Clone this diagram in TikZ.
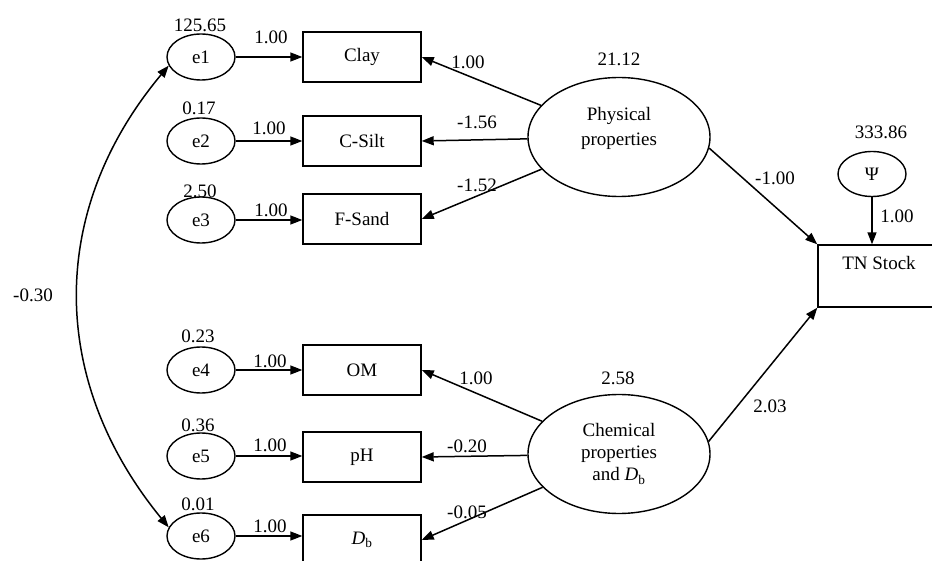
\documentclass[tikz,border=0pt]{standalone}
\usepackage{fontspec}
\setmainfont{Liberation Serif}
\usetikzlibrary{shapes.geometric,arrows.meta}

\begin{document}
\begin{tikzpicture}[x=1pt,y=-1pt,font=\fontsize{19}{22}\selectfont,
  err/.style={draw,ellipse,line width=1.4pt,minimum width=68pt,minimum height=46pt,inner sep=0pt},
  obs/.style={draw,rectangle,line width=1.4pt,minimum width=118pt,minimum height=50pt,inner sep=0pt},
  latent/.style={draw,ellipse,line width=1.4pt,minimum width=182pt,minimum height=119pt,inner sep=0pt,align=center},
  arr/.style={line width=1.5pt,-{Triangle[length=12pt,width=9pt]}},
  dbl/.style={line width=1.5pt,{Triangle[length=12pt,width=9pt]}-{Triangle[length=12pt,width=9pt]}}]
\clip (0,0) rectangle (932,561);

% error terms
\node[err] (e1) at (201,57) {e1};
\node[err] (e2) at (201,141) {e2};
\node[err] (e3) at (201,220) {e3};
\node[err] (e4) at (201,370) {e4};
\node[err] (e5) at (201,456) {e5};
\node[err] (e6) at (201,536) {e6};

% observed
\node[obs] (clay) at (362,57) {Clay};
\node[obs] (csilt) at (362,141) {C-Silt};
\node[obs] (fsand) at (362,219) {F-Sand};
\node[obs] (om) at (362,370) {OM};
\node[obs] (ph) at (362,457) {pH};
\node[obs] (db) at (362,540) {\textit{D}\textsubscript{b}};

% latent
\node[latent] (phys) at (619,137) {};
\node[align=center] (physname) at (619,128) {Physical\\[3pt]properties};
\node[latent] (chem) at (619,454) {Chemical\\properties\\and \textit{D}\textsubscript{b}};
\node[err,minimum height=45pt] (psi) at (872,174) {Ψ};
\node[obs,minimum width=122pt,minimum height=62pt,text height=19pt,text depth=31pt] (tn) at (879,276) {TN Stock};

% paths
\draw[arr] (e1) -- (e1 -| clay.west);
\draw[arr] (e2) -- (e2 -| csilt.west);
\draw[arr] (e3) -- (e3 -| fsand.west);
\draw[arr] (e4) -- (e4 -| om.west);
\draw[arr] (e5) -- (e5 -| ph.west);
\draw[arr] (e6) -- (e6 -| db.west);

\draw[arr] (phys) -- (clay.east);
\draw[arr] (phys) -- (csilt.east);
\draw[arr] (phys) -- (fsand.east);
\draw[arr] (chem) -- (om.east);
\draw[arr] (chem) -- (ph.east);
\draw[arr] (chem) -- (db.east);

\draw[arr] (phys.-7) -- (tn.north west);
\draw[arr] (chem.8) -- (tn.south west);
\draw[arr] (psi) -- (psi |- tn.north);

\draw[dbl] (e6.165) .. controls (48,380) and (48,210) .. (e1.195);

% estimates
\node (v1) at (200,25) {125.65};
\node (v2) at (199,108) {0.17};
\node (v3) at (200,191) {2.50};
\node (v4) at (198,336) {0.23};
\node (v5) at (198,425) {0.36};
\node (v6) at (198,504) {0.01};

\node (w1) at (271,37) {1.00};
\node (w2) at (269,128) {1.00};
\node (w3) at (271,210) {1.00};
\node (w4) at (270,361) {1.00};
\node (w5) at (270,445) {1.00};
\node (w6) at (270,526) {1.00};

\node (k1) at (468,62) {1.00};
\node (k2) at (477,122) {-1.56};
\node (k3) at (477,185) {-1.52};
\node (k4) at (476,378) {1.00};
\node (k5) at (467,446) {-0.20};
\node (k6) at (467,512) {-0.05};

\node (vphys) at (619,59) {21.12};
\node (vchem) at (618,378) {2.58};
\node (vpsi) at (881,132) {333.86};
\node (bphys) at (775,178) {-1.00};
\node (bpsi) at (897,216) {1.00};
\node (bchem) at (770,406) {2.03};
\node (cov) at (33,295) {-0.30};

\end{tikzpicture}
\end{document}
